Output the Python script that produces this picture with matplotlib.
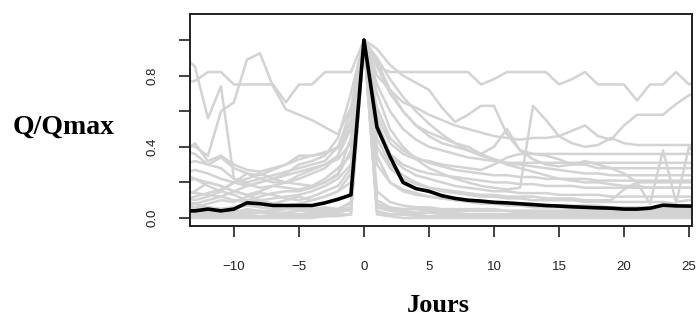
import matplotlib
matplotlib.use("Agg")
import matplotlib.pyplot as plt

# days relative to the flood peak
days = list(range(-14, 27))

# median hydrograph (black)
median_q = [0.04, 0.04, 0.05, 0.04, 0.05, 0.085, 0.08, 0.07, 0.07, 0.07, 0.07, 0.085, 0.105, 0.13,
            1.0,
            0.51, 0.345, 0.2, 0.165, 0.15, 0.125, 0.11, 0.10, 0.095, 0.088, 0.085, 0.08, 0.075, 0.07, 0.067,
            0.063, 0.06, 0.057, 0.055, 0.05, 0.05, 0.055, 0.072, 0.068, 0.067, 0.067]

# individual events (grey)
g01 = [0.76, 0.77, 0.82, 0.82, 0.75, 0.75, 0.75, 0.75, 0.65, 0.75, 0.75, 0.82, 0.82, 0.82,
       1.0,
       0.85, 0.82, 0.82, 0.82, 0.82, 0.82, 0.82, 0.82, 0.75, 0.78, 0.82, 0.82, 0.82, 0.82, 0.75,
       0.78, 0.82, 0.75, 0.75, 0.75, 0.66, 0.75, 0.75, 0.82, 0.75, 0.79]
g02 = [0.92, 0.85, 0.56, 0.74, 0.22, 0.19, 0.17, 0.18, 0.20, 0.19, 0.18, 0.20, 0.24, 0.38,
       1.0,
       0.55, 0.36, 0.30, 0.27, 0.25, 0.24, 0.23, 0.22, 0.21, 0.20, 0.20, 0.19, 0.19, 0.18, 0.18,
       0.18, 0.17, 0.17, 0.17, 0.17, 0.17, 0.17, 0.17, 0.17, 0.17, 0.17]
g03 = [0.42, 0.40, 0.35, 0.60, 0.65, 0.89, 0.925, 0.74, 0.61, 0.58, 0.55, 0.51, 0.47, 0.62,
       1.0,
       0.80, 0.72, 0.65, 0.62, 0.58, 0.55, 0.52, 0.50, 0.48, 0.46, 0.45, 0.44, 0.45, 0.45, 0.46,
       0.49, 0.52, 0.46, 0.44, 0.52, 0.58, 0.58, 0.58, 0.64, 0.69, 0.72]
g04 = [0.30, 0.32, 0.30, 0.34, 0.28, 0.25, 0.24, 0.27, 0.30, 0.33, 0.35, 0.36, 0.40, 0.55,
       1.0,
       0.95, 0.86, 0.80, 0.76, 0.72, 0.62, 0.54, 0.58, 0.63, 0.63, 0.47, 0.38, 0.36, 0.35, 0.33,
       0.30, 0.30, 0.28, 0.28, 0.28, 0.28, 0.28, 0.28, 0.28, 0.28, 0.28]
g05 = [0.12, 0.10, 0.12, 0.15, 0.13, 0.10, 0.12, 0.14, 0.15, 0.15, 0.17, 0.20, 0.25, 0.45,
       1.0,
       0.70, 0.50, 0.40, 0.33, 0.28, 0.25, 0.22, 0.20, 0.18, 0.17, 0.16, 0.17, 0.63, 0.55, 0.46,
       0.42, 0.40, 0.41, 0.45, 0.42, 0.41, 0.41, 0.41, 0.41, 0.41, 0.41]
g06 = [0.25, 0.22, 0.20, 0.18, 0.15, 0.18, 0.20, 0.22, 0.24, 0.26, 0.28, 0.30, 0.35, 0.50,
       1.0,
       0.85, 0.70, 0.60, 0.52, 0.46, 0.42, 0.40, 0.38, 0.36, 0.40, 0.50, 0.38, 0.33, 0.30, 0.29,
       0.30, 0.32, 0.30, 0.28, 0.25, 0.20, 0.08, 0.38, 0.09, 0.10, 0.10]
g07 = [0.10, 0.08, 0.06, 0.05, 0.06, 0.08, 0.10, 0.08, 0.07, 0.08, 0.10, 0.12, 0.15, 0.25,
       1.0,
       0.45, 0.30, 0.24, 0.20, 0.17, 0.15, 0.14, 0.13, 0.12, 0.12, 0.11, 0.11, 0.10, 0.10, 0.10,
       0.10, 0.09, 0.09, 0.09, 0.09, 0.09, 0.09, 0.09, 0.08, 0.40, 0.30]
g08 = [0.36, 0.42, 0.32, 0.35, 0.30, 0.27, 0.26, 0.28, 0.30, 0.35, 0.35, 0.37, 0.39, 0.50,
       1.0,
       0.62, 0.45, 0.38, 0.34, 0.31, 0.29, 0.27, 0.26, 0.25, 0.24, 0.24, 0.23, 0.23, 0.22, 0.22,
       0.22, 0.22, 0.21, 0.21, 0.21, 0.21, 0.21, 0.21, 0.21, 0.21, 0.21]
g09 = [0.20, 0.22, 0.18, 0.15, 0.20, 0.22, 0.25, 0.22, 0.20, 0.24, 0.27, 0.30, 0.33, 0.42,
       1.0,
       0.58, 0.42, 0.36, 0.33, 0.32, 0.30, 0.29, 0.28, 0.27, 0.30, 0.34, 0.36, 0.36, 0.36, 0.36,
       0.36, 0.36, 0.36, 0.36, 0.36, 0.36, 0.36, 0.36, 0.36, 0.36, 0.36]
g10 = [0.02, 0.02, 0.03, 0.02, 0.02, 0.03, 0.03, 0.02, 0.02, 0.02, 0.03, 0.03, 0.04, 0.06,
       1.0,
       0.06, 0.04, 0.03, 0.03, 0.03, 0.02, 0.02, 0.02, 0.02, 0.02, 0.02, 0.02, 0.02, 0.02, 0.02,
       0.02, 0.02, 0.02, 0.02, 0.02, 0.02, 0.02, 0.02, 0.02, 0.02, 0.02]
g11 = [0.03, 0.04, 0.03, 0.03, 0.04, 0.04, 0.03, 0.03, 0.03, 0.04, 0.04, 0.05, 0.05, 0.08,
       1.0,
       0.10, 0.06, 0.05, 0.05, 0.04, 0.04, 0.04, 0.04, 0.04, 0.04, 0.04, 0.03, 0.03, 0.03, 0.03,
       0.03, 0.03, 0.03, 0.03, 0.03, 0.03, 0.03, 0.03, 0.03, 0.03, 0.03]
g12 = [0.01, 0.01, 0.01, 0.01, 0.01, 0.01, 0.01, 0.01, 0.01, 0.01, 0.02, 0.02, 0.03, 0.05,
       1.0,
       0.04, 0.02, 0.02, 0.01, 0.01, 0.01, 0.01, 0.01, 0.01, 0.01, 0.01, 0.01, 0.01, 0.01, 0.01,
       0.01, 0.01, 0.01, 0.01, 0.01, 0.01, 0.01, 0.01, 0.01, 0.01, 0.01]
g13 = [0.15, 0.14, 0.13, 0.12, 0.10, 0.09, 0.10, 0.11, 0.12, 0.13, 0.15, 0.18, 0.22, 0.30,
       1.0,
       0.40, 0.28, 0.22, 0.19, 0.17, 0.16, 0.15, 0.14, 0.13, 0.13, 0.12, 0.12, 0.12, 0.11, 0.11,
       0.11, 0.10, 0.10, 0.10, 0.16, 0.20, 0.20, 0.20, 0.20, 0.20, 0.20]
g14 = [0.07, 0.06, 0.08, 0.10, 0.09, 0.12, 0.14, 0.13, 0.11, 0.10, 0.12, 0.15, 0.18, 0.28,
       1.0,
       0.35, 0.20, 0.15, 0.13, 0.12, 0.11, 0.10, 0.10, 0.09, 0.09, 0.08, 0.08, 0.08, 0.07, 0.07,
       0.07, 0.07, 0.07, 0.06, 0.06, 0.06, 0.06, 0.06, 0.06, 0.06, 0.06]
g15 = [0.38, 0.36, 0.30, 0.28, 0.22, 0.20, 0.22, 0.24, 0.26, 0.28, 0.30, 0.32, 0.40, 0.60,
       1.0,
       0.75, 0.60, 0.50, 0.44, 0.40, 0.38, 0.36, 0.34, 0.33, 0.32, 0.31, 0.31, 0.31, 0.31, 0.31,
       0.31, 0.31, 0.31, 0.31, 0.31, 0.31, 0.31, 0.31, 0.31, 0.31, 0.31]
g16 = [0.05, 0.08, 0.10, 0.12, 0.15, 0.13, 0.10, 0.08, 0.10, 0.12, 0.10, 0.12, 0.15, 0.20,
       1.0,
       0.30, 0.20, 0.16, 0.14, 0.12, 0.11, 0.10, 0.09, 0.08, 0.08, 0.07, 0.07, 0.06, 0.06, 0.06,
       0.05, 0.05, 0.05, 0.05, 0.05, 0.05, 0.05, 0.05, 0.05, 0.05, 0.05]
g17 = [0.25, 0.27, 0.25, 0.22, 0.20, 0.18, 0.20, 0.22, 0.25, 0.30, 0.32, 0.35, 0.45, 0.70,
       1.0,
       0.90, 0.78, 0.68, 0.60, 0.53, 0.47, 0.42, 0.38, 0.35, 0.33, 0.31, 0.30, 0.29, 0.28, 0.27,
       0.26, 0.25, 0.25, 0.24, 0.24, 0.24, 0.24, 0.24, 0.24, 0.24, 0.24]
g18 = [0.04, 0.05, 0.06, 0.05, 0.06, 0.07, 0.06, 0.05, 0.05, 0.05, 0.05, 0.06, 0.05, 0.04,
       1.0,
       0.06, 0.05, 0.05, 0.05, 0.05, 0.04, 0.04, 0.04, 0.04, 0.04, 0.04, 0.04, 0.04, 0.04, 0.04,
       0.04, 0.04, 0.04, 0.04, 0.04, 0.04, 0.04, 0.04, 0.04, 0.04, 0.04]
g19 = [0.12, 0.15, 0.20, 0.18, 0.15, 0.13, 0.15, 0.18, 0.17, 0.16, 0.18, 0.22, 0.28, 0.35,
       1.0,
       0.50, 0.35, 0.28, 0.24, 0.22, 0.20, 0.18, 0.17, 0.16, 0.15, 0.15, 0.14, 0.14, 0.14, 0.13,
       0.13, 0.13, 0.13, 0.12, 0.12, 0.12, 0.12, 0.12, 0.12, 0.12, 0.12]
g20 = [0.10, 0.12, 0.14, 0.16, 0.20, 0.25, 0.22, 0.20, 0.20, 0.22, 0.25, 0.28, 0.35, 0.55,
       1.0,
       0.88, 0.72, 0.60, 0.52, 0.48, 0.45, 0.42, 0.40, 0.36, 0.33, 0.30, 0.28, 0.26, 0.24, 0.22,
       0.21, 0.20, 0.20, 0.19, 0.18, 0.18, 0.17, 0.17, 0.17, 0.17, 0.17]
g21 = [0.00, 0.00, 0.00, 0.00, 0.00, 0.00, 0.00, 0.00, 0.00, 0.00, 0.00, 0.01, 0.01, 0.02,
       1.0,
       0.02, 0.01, 0.00, 0.00, 0.00, 0.00, 0.00, 0.00, 0.00, 0.00, 0.00, 0.00, 0.00, 0.00, 0.00,
       0.00, 0.00, 0.00, 0.00, 0.00, 0.00, 0.00, 0.00, 0.00, 0.00, 0.00]
g22 = [0.03, 0.03, 0.02, 0.02, 0.03, 0.05, 0.04, 0.03, 0.02, 0.02, 0.02, 0.03, 0.03, 0.05,
       1.0,
       0.08, 0.05, 0.04, 0.03, 0.03, 0.03, 0.03, 0.02, 0.02, 0.02, 0.02, 0.02, 0.02, 0.02, 0.02,
       0.02, 0.02, 0.02, 0.02, 0.02, 0.02, 0.02, 0.02, 0.02, 0.02, 0.02]
g23 = [0.05, 0.04, 0.04, 0.03, 0.03, 0.03, 0.04, 0.04, 0.05, 0.05, 0.04, 0.04, 0.05, 0.09,
       1.0,
       0.15, 0.09, 0.07, 0.06, 0.06, 0.05, 0.05, 0.05, 0.05, 0.05, 0.04, 0.04, 0.04, 0.04, 0.04,
       0.04, 0.04, 0.04, 0.04, 0.04, 0.04, 0.04, 0.04, 0.04, 0.04, 0.04]
g24 = [0.01, 0.01, 0.01, 0.02, 0.02, 0.02, 0.01, 0.01, 0.01, 0.01, 0.01, 0.01, 0.02, 0.02,
       1.0,
       0.03, 0.02, 0.02, 0.02, 0.01, 0.01, 0.01, 0.01, 0.01, 0.01, 0.01, 0.01, 0.01, 0.01, 0.01,
       0.01, 0.01, 0.01, 0.01, 0.01, 0.01, 0.01, 0.01, 0.01, 0.01, 0.01]

events = [g01, g02, g03, g04, g05, g06, g07, g08, g09, g10, g11, g12,
          g13, g14, g15, g16, g17, g18, g19, g20, g21, g22, g23, g24]

yticks = [0.0, 0.2, 0.4, 0.6, 0.8, 1.0]
ytick_labels = ["0.0", "", "0.4", "", "0.8", ""]
xticks = [-10, -5, 0, 5, 10, 15, 20, 25]

W, H = 699, 321
fig = plt.figure(figsize=(W / 100, H / 100), dpi=100)
ax = fig.add_axes([190 / W, (H - 226) / H, (692 - 190) / W, (226 - 14) / H])

for ev in events:
    ax.plot(days, ev, color="#d3d3d3", lw=1.8, zorder=1)
ax.plot(days, median_q, color="black", lw=2.6, zorder=3)

ax.set_xlim(-13.38, 25.23)
ax.set_ylim(-0.045, 1.146)
ax.set_xticks(xticks)
ax.set_xticklabels([str(t).replace("-", "\u2212") for t in xticks])
ax.set_yticks(yticks)
ax.set_yticklabels(ytick_labels, rotation=90, va="center")

for lab in ax.get_xticklabels() + ax.get_yticklabels():
    lab.set_fontfamily("Liberation Sans")
    lab.set_fontsize(9.5)
    lab.set_color("#222222")
ax.tick_params(axis="both", direction="out", length=8, width=1.2, color="#222222")
ax.tick_params(axis="x", pad=17)
ax.tick_params(axis="y", pad=15)
for sp in ax.spines.values():
    sp.set_linewidth(1.4)
    sp.set_color("#222222")

fig.text(64 / W, 1 - 127 / H, "Q/Qmax", ha="center", va="center",
         fontfamily="Liberation Serif", fontweight="bold", fontsize=20)
fig.text(438 / W, 1 - 306 / H, "Jours", ha="center", va="center",
         fontfamily="Liberation Serif", fontweight="bold", fontsize=19)

fig.savefig("out.png", dpi=100)
